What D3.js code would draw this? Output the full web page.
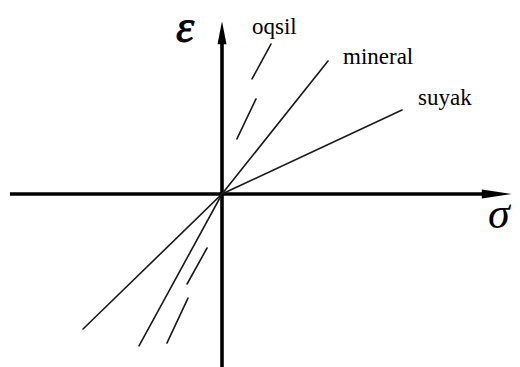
<!DOCTYPE html>
<html>
<head>
<meta charset="utf-8">
<script src="https://cdn.jsdelivr.net/npm/d3@7"></script>
<style>
  html, body { margin: 0; padding: 0; background: #fff; }
  svg { display: block; }
  .serif { font-family: "Liberation Serif", "Times New Roman", Times, serif; }
</style>
</head>
<body>
<script>
// Stress–strain sketch of bone ("suyak") and its components:
// mineral phase and protein ("oqsil"), tension and compression branches.
const curveNames = ["suyak", "mineral"];
// [σ, ε] end points of each straight branch through the origin
const suyakEnds = [[-7.72, -7.5], [10.0, 4.67]];
const mineralEnds = [[-4.61, -8.44], [5.89, 7.39]];
// protein branch is drawn as broken strokes
const oqsilStrokes = [
  [[2.72, 8.33], [1.67, 6.39]],
  [[1.89, 5.28], [0.83, 3.06]],
  [[-0.83, -3.0], [-1.94, -5.0]],
  [[-1.89, -5.78], [-3.06, -8.28]]
];
const sigmaRange = [-11.78, 16.1];
const epsRange = [-9.65, 9.6];
const labels = ["oqsil", "mineral", "suyak"];

const W = 520, H = 367;
const svg = d3.select("body").append("svg").attr("width", W).attr("height", H);

const x = d3.scaleLinear().domain([-10, 10]).range([42, 402]);
const y = d3.scaleLinear().domain([-10, 10]).range([374, 14]);

const line = d3.line().x(d => x(d[0])).y(d => y(d[1]));

// axes
const axisColor = "#000";
svg.append("line")
  .attr("x1", x(sigmaRange[0])).attr("y1", y(0))
  .attr("x2", x(sigmaRange[1]) - 24).attr("y2", y(0))
  .attr("stroke", axisColor).attr("stroke-width", 3.6);
svg.append("line")
  .attr("x1", x(0)).attr("y1", y(epsRange[0]))
  .attr("x2", x(0)).attr("y2", y(epsRange[1]) + 20)
  .attr("stroke", axisColor).attr("stroke-width", 3.6);

// arrow heads
const xt = x(sigmaRange[1]), yt = y(0);
svg.append("path")
  .attr("d", `M${xt},${yt} L${xt - 30},${yt - 4.5} L${xt - 30},${yt + 4.5} Z`)
  .attr("fill", axisColor);
const vx = x(0), vt = y(epsRange[1]);
svg.append("path")
  .attr("d", `M${vx},${vt} L${vx - 4.5},${vt + 23} L${vx + 4.5},${vt + 23} Z`)
  .attr("fill", axisColor);

// branches
const g = svg.append("g").attr("fill", "none").attr("stroke", "#1a1a1a")
  .attr("stroke-width", 1.6).attr("stroke-linecap", "round");
[suyakEnds, mineralEnds].forEach((ends, i) => {
  g.append("path").attr("class", curveNames[i])
    .attr("d", line([ends[0], [0, 0], ends[1]]));
});
g.selectAll("path.oqsil").data(oqsilStrokes).join("path")
  .attr("class", "oqsil").attr("d", d => line(d));

// labels
const labelPos = [[252, 34], [343, 64], [418, 105]];
svg.selectAll("text.lab").data(labels).join("text")
  .attr("class", "lab serif")
  .attr("x", (d, i) => labelPos[i][0]).attr("y", (d, i) => labelPos[i][1])
  .attr("font-size", 23).attr("fill", "#000")
  .text(d => d);

// axis symbols
svg.append("text").attr("class", "serif").attr("x", 176).attr("y", 42)
  .attr("font-style", "italic")
  .attr("font-size", 46).attr("fill", "#000")
  .attr("stroke", "#000").attr("stroke-width", 0.9).text("ε");
svg.append("text").attr("class", "serif").attr("x", 488).attr("y", 228)
  .attr("font-style", "italic")
  .attr("font-size", 44).attr("fill", "#000").text("σ");
</script>
</body>
</html>
